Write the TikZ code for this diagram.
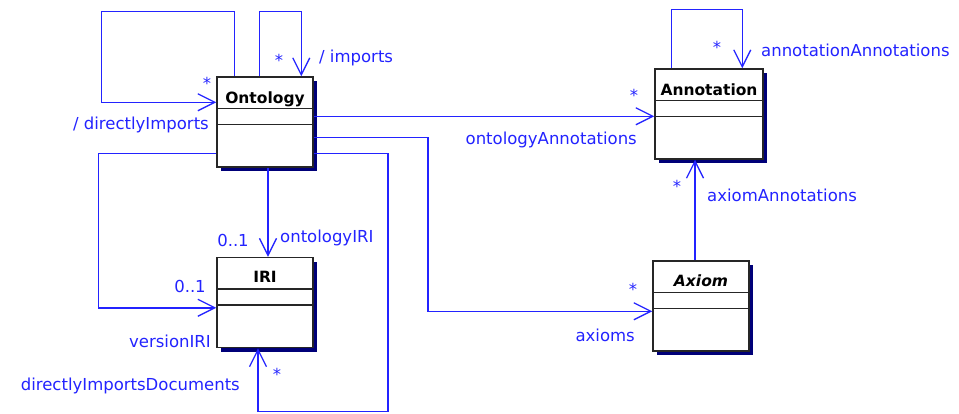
\documentclass[tikz,border=0pt]{standalone}
\usepackage{fontspec}
\setmainfont{DejaVu Sans}
\usetikzlibrary{arrows.meta,shadows}
\definecolor{assocblue}{RGB}{35,35,255}
\definecolor{shadownavy}{RGB}{0,0,120}

\begin{document}
\begin{tikzpicture}[x=1pt,y=-1pt,
  classbox/.style={draw=black!85, line width=1.5pt, fill=white, inner sep=0pt, minimum height=90pt,
    drop shadow={shadow xshift=4pt, shadow yshift=-4pt, fill=shadownavy, opacity=1}},
  classname/.style={font=\fontsize{15.5}{17}\selectfont\bfseries, anchor=base, inner sep=0pt},
  assoc/.style={draw=assocblue, line width=1.5pt, -{Straight Barb[length=17pt,width=17pt,line width=1.3pt]}},
  role/.style={text=assocblue, font=\fontsize{16.5}{18}\selectfont, inner sep=0pt},
  mult/.style={role, anchor=center},
]
\useasboundingbox (0,0) rectangle (959,413);

% classes
\node[classbox, minimum width=96pt] (onto) at (265,122) {};
\node[classbox, minimum width=96pt] (iri) at (265,302.5) {};
\node[classbox, minimum width=108pt] (annot) at (709,114) {};
\node[classbox, minimum width=96pt] (axiom) at (701,306) {};

\foreach \c in {onto,iri,annot,axiom} {
  \draw[draw=black!85, line width=1.5pt]
    ([shift={(0,32)}]\c.north west) -- ([shift={(0,32)}]\c.north east)
    ([shift={(0,48)}]\c.north west) -- ([shift={(0,48)}]\c.north east);
}

\node[classname] (ontoname) at ([shift={(0,27)}]onto.north) {Ontology};
\node[classname] (iriname) at ([shift={(0,26)}]iri.north) {IRI};
\node[classname] (annotname) at ([shift={(0,27)}]annot.north) {Annotation};
\node[classname, font=\fontsize{15.5}{17}\selectfont\bfseries\itshape] (axiomname) at ([shift={(0,26)}]axiom.north) {Axiom};

% associations
\draw[assoc] ([shift={(18,0)}]onto.north west) -- ++(0,-65) -- ++(-133,0) |- ([shift={(0,26)}]onto.north west);
\draw[assoc] ([shift={(43,0)}]onto.north west) -- ++(0,-65) -| ([shift={(85,0)}]onto.north west);
\draw[assoc] ([shift={(0,40)}]onto.north east) -- ([shift={(0,48)}]annot.north west);
\draw[assoc] ([shift={(0,61)}]onto.north east) -- ++(114,0) |- ([shift={(0,51)}]axiom.north west);
\draw[assoc] ([shift={(0,77)}]onto.north east) -- ++(74,0) -- ++(0,258) -| ([shift={(-7,0)}]iri.south);
\draw[assoc] ([shift={(0,77)}]onto.north west) -- ++(-118,0) |- ([shift={(0,51)}]iri.north west);
\draw[assoc] ([shift={(3,0)}]onto.south) -- ([shift={(3,0)}]iri.north);
\draw[assoc] ([shift={(17,0)}]annot.north west) -- ++(0,-59) -| ([shift={(88,0)}]annot.north west);
\draw[assoc] ([shift={(-6,0)}]axiom.north) -- ([shift={(-14,0)}]annot.south);

% role names and multiplicities
\node[role, anchor=base east] (dirimp) at (209,129) {/ directlyImports};
\node[mult] (dirimpm) at (207,83) {*};
\node[role, anchor=base west] (imp) at (319,62) {/ imports};
\node[mult] (impm) at (279,60) {*};
\node[role, anchor=base east] (ontann) at (637,144) {ontologyAnnotations};
\node[mult] (ontannm) at (634,95) {*};
\node[role, anchor=base west] (annann) at (761,56) {annotationAnnotations};
\node[mult] (annannm) at (717,47) {*};
\node[role, anchor=base west] (axann) at (707,201) {axiomAnnotations};
\node[mult] (axannm) at (677,186) {*};
\node[role, anchor=base east] (ax) at (635,341) {axioms};
\node[mult] (axm) at (633,289) {*};
\node[role, anchor=base west] (ontiri) at (280,242) {ontologyIRI};
\node[role, anchor=base] (ontirim) at (233,246) {0..1};
\node[role, anchor=base east] (veriri) at (211,347) {versionIRI};
\node[role, anchor=base] (veririm) at (190,292) {0..1};
\node[role, anchor=base east] (dirdoc) at (240,390) {directlyImportsDocuments};
\node[mult] (dirdocm) at (277,374) {*};

\end{tikzpicture}
\end{document}
